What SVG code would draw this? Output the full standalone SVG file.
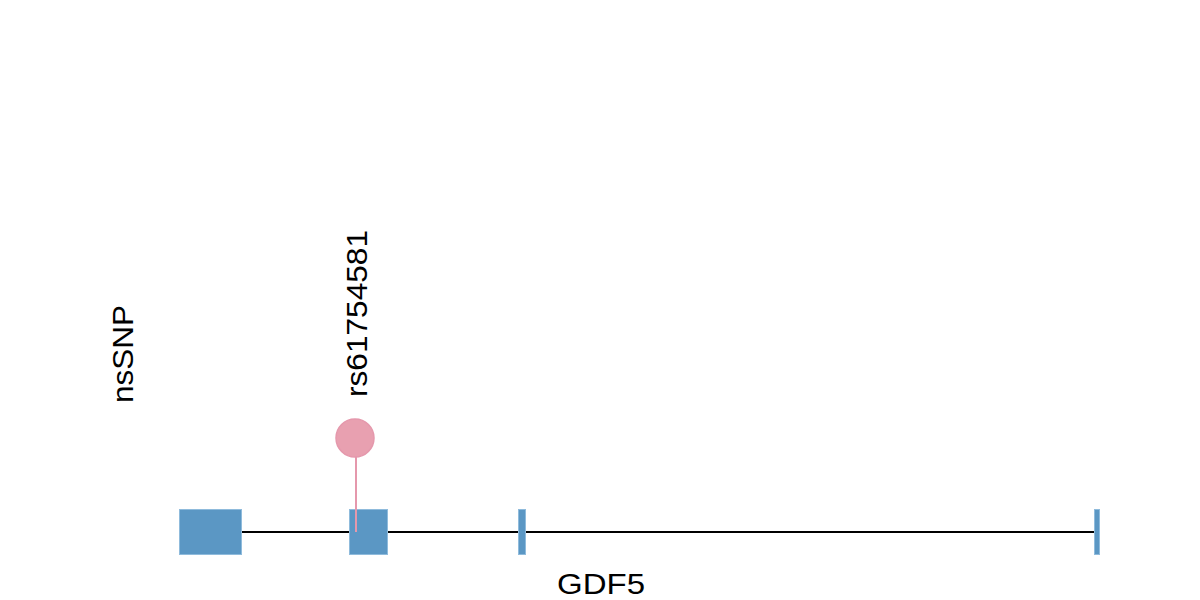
<svg xmlns="http://www.w3.org/2000/svg" width="1200" height="600" viewBox="0 0 1200 600">
<style>
.exon{fill:#5b97c4;stroke:#8fbbdc;stroke-width:1}
.lbl{font-family:"Liberation Sans",Arial,sans-serif;font-size:30px;fill:#000}
.intron{stroke:#000;stroke-width:2;fill:none}
.stem{stroke:#e598ac;stroke-width:2}
.snp{fill:#e8a0b0;stroke:#e598ac;stroke-width:1.5}
</style>
<rect width="1200" height="600" fill="#fff"/>
<g id="connectors">
<line class="intron" x1="242" y1="532" x2="1095" y2="532"/>
</g>
<g id="exon1"><rect class="exon" x="179.5" y="509.5" width="62" height="45"/></g>
<g id="exon2"><rect class="exon" x="349.5" y="509.5" width="38" height="45"/></g>
<g id="exon3"><rect class="exon" x="518.5" y="509.5" width="7" height="45"/></g>
<g id="exon4"><rect class="exon" x="1094.5" y="509.5" width="5" height="45"/></g>
<g id="snp-rs61754581">
<line class="stem" x1="356" y1="438" x2="356" y2="532"/>
<circle class="snp" cx="355" cy="438" r="19"/>
<text class="lbl" transform="translate(367,397) rotate(-90)" textLength="167" lengthAdjust="spacingAndGlyphs">rs61754581</text>
</g>
<g id="track-label">
<text class="lbl" transform="translate(133,403) rotate(-90)" textLength="98" lengthAdjust="spacingAndGlyphs">nsSNP</text>
</g>
<g id="gene-label">
<text class="lbl" x="557" y="594" textLength="88" lengthAdjust="spacingAndGlyphs">GDF5</text>
</g>
</svg>
